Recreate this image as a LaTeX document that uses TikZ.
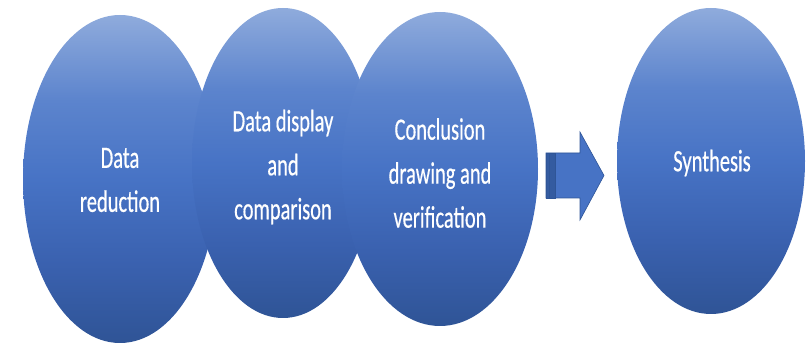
\documentclass[tikz,border=0pt]{standalone}
\usepackage{fontspec}
\setmainfont{Carlito}
\newfontfamily\lblfont{Carlito}[FakeBold=0.6]
\usetikzlibrary{shapes.geometric}
\definecolor{btop}{HTML}{8FABDC}
\definecolor{bup}{HTML}{5C84CD}
\definecolor{bmid}{HTML}{4773C5}
\definecolor{blow}{HTML}{3A61AF}
\definecolor{bbot}{HTML}{2F5496}
\definecolor{aline}{HTML}{2F5597}
\pgfdeclareverticalshading{blobshade}{100bp}{color(0bp)=(bbot); color(25bp)=(bbot); color(37bp)=(blow); color(50bp)=(bmid); color(62bp)=(bup); color(75bp)=(btop); color(100bp)=(btop)}
\tikzset{
  blob/.style={ellipse, inner sep=0pt, shading=blobshade, draw=none},
  lbl/.style={text=white, align=center, font=\lblfont\fontsize{31}{44}\selectfont, xscale=0.66, transform shape, inner sep=0pt}
}
\begin{document}
\begin{tikzpicture}[x=1pt,y=-1pt]
\useasboundingbox (0,0) rectangle (807,344);
\node[blob, minimum width=194pt, minimum height=328pt] (e1) at (120,179) {};
\node[blob, minimum width=182pt, minimum height=310pt] (e2) at (283,163) {};
\node[blob, minimum width=196pt, minimum height=314pt] (e3) at (440,169) {};
\node[blob, minimum width=188pt, minimum height=306pt] (e4) at (711,161) {};
\node[lbl] (t1) at (120,180) {Data\\reduction};
\node[lbl] (t2) at (283,167) {Data display\\and\\comparison};
\node[lbl] (t3) at (440,173) {Conclusion\\drawing and\\verification};
\node[lbl] (t4) at (712,163) {Synthesis};
\draw[fill=bmid, draw=aline, line width=0.6pt, line join=miter]
  (546,153) -- (580,153) -- (580,132) -- (604,175.5) -- (580,220) -- (580,198) -- (546,198) -- cycle;
\fill[aline!80!bmid] (546,153) rectangle (555,198);
\draw[aline, line width=0.5pt] (549.5,153) -- (549.5,198);
\draw[aline, line width=0.6pt] (546,153) rectangle (555,198);
\end{tikzpicture}
\end{document}
